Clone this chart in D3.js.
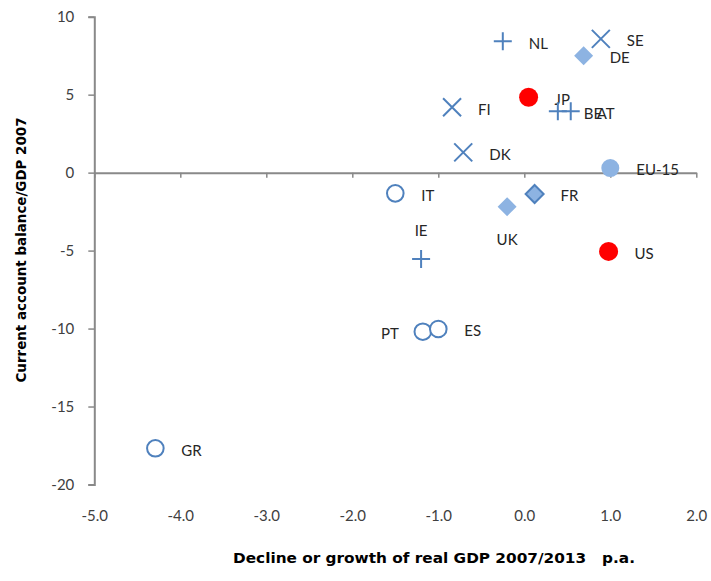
<!DOCTYPE html>
<html>
<head>
<meta charset="utf-8">
<script src="https://cdn.jsdelivr.net/npm/d3@7"></script>
<style>
  body { margin: 0; background: #fff; }
  svg { display: block; }
  .tick text { font-family: Lato, "Open Sans", sans-serif; font-size: 15px; fill: #404040; }
  .axis-title { font-family: "DejaVu Sans", sans-serif; font-weight: bold; font-size: 14px; fill: #000; white-space: pre; }
  .point-label { font-family: Lato, "Open Sans", sans-serif; font-size: 15px; fill: #262626; }
</style>
</head>
<body>
<div id="chart"></div>
<script>
// Data
const countries = ['NL', 'SE', 'DE', 'JP', 'BE', 'AT', 'FI', 'DK', 'EU-15', 'IT', 'FR', 'UK', 'US', 'IE', 'PT', 'ES', 'GR']
const gdpGrowth = [-0.25, 0.89, 0.69, 0.05, 0.39, 0.54, -0.84, -0.71, 1.00, -1.50, 0.12, -0.20, 0.98, -1.20, -1.18, -1.00, -4.29]
const currentAccount = [8.42, 8.58, 7.50, 4.83, 3.93, 3.93, 4.19, 1.30, 0.29, -1.33, -1.37, -2.18, -5.05, -5.54, -10.20, -10.03, -17.68]
const groups = ['plus', 'cross', 'diamond', 'red', 'plus', 'plus', 'cross', 'cross', 'eu', 'ring', 'fr', 'diamond', 'red', 'plus', 'ring', 'ring', 'ring']
const xTicks = [-5, -4, -3, -2, -1, 0, 1, 2]
const yTicks = [-20, -15, -10, -5, 0, 5, 10]

const width = 711
const height = 581
const blue = '#4f81bd'
const lightBlue = '#8db3e2'

// where the label sits relative to its marker
const labelPlace = { UK: 'below', IE: 'above', PT: 'left' }

const svg = d3.select('#chart').append('svg')
  .attr('width', width)
  .attr('height', height)

const x = d3.scaleLinear().domain([-5, 2]).range([94.3, 696.3])
const y = d3.scaleLinear().domain([-20, 10]).range([484.5, 16.7])

// y axis on the left
const yAxis = svg.append('g')
  .attr('transform', `translate(${x(-5)},0)`)
  .call(d3.axisLeft(y).tickValues(yTicks).tickSize(6).tickPadding(14).tickFormat(d => String(d)))
yAxis.select('.domain').attr('stroke', '#898989').attr('stroke-width', 2)
yAxis.selectAll('.tick line').attr('stroke', '#898989').attr('stroke-width', 1.5)

// x axis crosses at zero, labels sit low under the plot
const xAxis = svg.append('g')
  .attr('transform', `translate(0,${y(0)})`)
  .call(d3.axisBottom(x).tickValues(xTicks).tickSizeInner(5).tickSizeOuter(0)
    .tickPadding(y(-20) - y(0) + 26).tickFormat(d => d.toFixed(1)))
xAxis.select('.domain').attr('stroke', '#898989').attr('stroke-width', 2)
xAxis.selectAll('.tick line').attr('stroke', '#898989').attr('stroke-width', 1.5)
xAxis.selectAll('.tick text').attr('dy', '0.35em')

// axis titles
svg.append('text')
  .attr('class', 'axis-title')
  .attr('transform', 'translate(21,250) rotate(-90)')
  .attr('text-anchor', 'middle')
  .attr('dy', '0.35em')
  .attr('textLength', 265)
  .attr('lengthAdjust', 'spacingAndGlyphs')
  .text('Current account balance/GDP 2007')

svg.append('text')
  .attr('class', 'axis-title')
  .attr('x', 434)
  .attr('y', 558)
  .attr('text-anchor', 'middle')
  .attr('dy', '0.35em')
  .attr('textLength', 402)
  .attr('lengthAdjust', 'spacingAndGlyphs')
  .text('Decline or growth of real GDP 2007/2013   p.a.')

const points = countries.map((c, i) => ({ country: c, gx: gdpGrowth[i], ca: currentAccount[i], group: groups[i] }))

const marks = svg.append('g')
  .selectAll('g')
  .data(points)
  .enter()
  .append('g')
  .attr('transform', d => `translate(${x(d.gx)},${y(d.ca)})`)

marks.each(function (d) {
  const g = d3.select(this)
  if (d.group === 'plus') {
    g.append('path').attr('d', 'M-9,0H9M0,-9V9').attr('stroke', blue).attr('stroke-width', 2).attr('fill', 'none')
  } else if (d.group === 'cross') {
    g.append('path').attr('d', 'M-9,-9L9,9M-9,9L9,-9').attr('stroke', blue).attr('stroke-width', 2).attr('fill', 'none')
  } else if (d.group === 'ring') {
    g.append('circle').attr('r', 8.3).attr('fill', '#fff').attr('stroke', blue).attr('stroke-width', 2)
  } else if (d.group === 'red') {
    g.append('circle').attr('r', 9.5).attr('fill', '#ff0000')
  } else if (d.group === 'eu') {
    g.append('circle').attr('r', 9).attr('fill', lightBlue)
  } else if (d.group === 'diamond') {
    g.append('path').attr('d', 'M0,-9.5L9.5,0L0,9.5L-9.5,0Z').attr('fill', lightBlue)
  } else if (d.group === 'fr') {
    g.append('path').attr('d', 'M0,-9L9,0L0,9L-9,0Z').attr('fill', lightBlue).attr('stroke', blue).attr('stroke-width', 2)
  }
})

// labels
marks.append('text')
  .attr('class', 'point-label')
  .attr('dy', '0.35em')
  .attr('x', d => labelPlace[d.country] === 'left' ? -24 : (labelPlace[d.country] ? 0 : 26))
  .attr('y', d => labelPlace[d.country] === 'below' ? 33 : (labelPlace[d.country] === 'above' ? -28 : 2))
  .attr('text-anchor', d => labelPlace[d.country] === 'left' ? 'end' : (labelPlace[d.country] ? 'middle' : 'start'))
  .text(d => d.country)
</script>
</body>
</html>
